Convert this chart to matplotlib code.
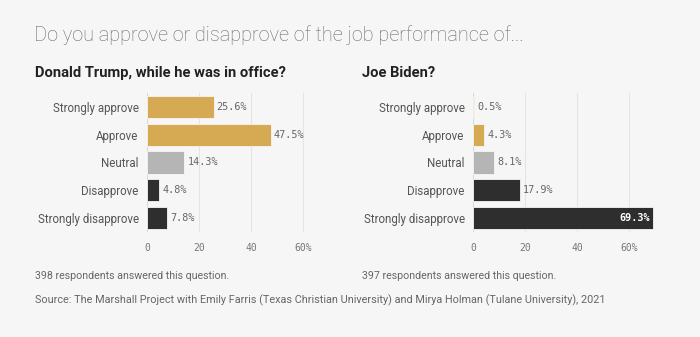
import matplotlib.pyplot as plt

categorias = ['Strongly approve', 'Approve', 'Neutral', 'Disapprove', 'Strongly disapprove']
trump = [25.6, 47.5, 14.3, 4.8, 7.8]
biden = [0.5, 4.3, 8.1, 17.9, 69.3]
colores = ['#d6aa52', '#d6aa52', '#b5b5b5', '#2e2e2e', '#2e2e2e']
ticks = [0, 20, 40, 60]
tick_labels = ['0', '20', '40', '60%']

plt.rcParams['font.family'] = ['Roboto', 'DejaVu Sans']
bg = '#f6f6f6'

fig = plt.figure(figsize=(7, 3.37), dpi=100, facecolor=bg)

fig.text(34/700, 1 - 35/337, 'Do you approve or disapprove of the job performance of...',
         fontsize=14.3, color='#6a6a6a', va='center', fontweight='light')


def panel(x0, valores, titulo, nota, tx):
    ax = fig.add_axes([x0/700, 0.312, 182/700, 0.412], facecolor=bg)
    y = range(len(categorias))
    ax.barh(y, valores, height=0.8, color=colores, edgecolor='#f6f6f6', linewidth=0.6, zorder=3)
    ax.set_xlim(0, 70)
    ax.set_ylim(len(categorias) - 0.5, -0.5)
    ax.set_yticks(list(y))
    ax.set_yticklabels(categorias, fontsize=8.3, color='#555555')
    ax.set_xticks(ticks)
    ax.set_xticklabels(tick_labels, fontsize=7, color='#777777', family='DejaVu Sans Mono')
    ax.tick_params(length=0, pad=6)
    ax.tick_params(axis='x', pad=8)
    for s in ax.spines.values():
        s.set_visible(False)
    ax.axvline(0, color='#d8d8d8', lw=0.8, zorder=2)
    for t in ticks[1:]:
        ax.axvline(t, color='#e4e4e4', lw=0.8, zorder=1)
    for i, v in enumerate(valores):
        lab = f'{v:.1f}%'
        if v > 60:
            ax.text(v - 1.2, i, lab, ha='right', va='center', fontsize=7.3, color='white',
                    fontweight='bold', family='DejaVu Sans Mono', zorder=4)
        else:
            ax.text(v + 1.2, i, lab, ha='left', va='center', fontsize=7.3, color='#666666',
                    family='DejaVu Sans Mono', zorder=4)
    fig.text(tx/700, 1 - 73/337, titulo, fontsize=10.6, fontweight='bold', color='#222222', va='center')
    fig.text(tx/700, 1 - 276/337, nota, fontsize=7.7, color='#666666', va='center')
    return ax


panel(147, trump, 'Donald Trump, while he was in office?', '398 respondents answered this question.', 35)
panel(473, biden, 'Joe Biden?', '397 respondents answered this question.', 362)

fig.text(35/700, 1 - 300/337,
         'Source: The Marshall Project with Emily Farris (Texas Christian University) and Mirya Holman (Tulane University), 2021',
         fontsize=7.8, color='#666666', va='center')

fig.savefig('out.png', dpi=100, facecolor=bg)
